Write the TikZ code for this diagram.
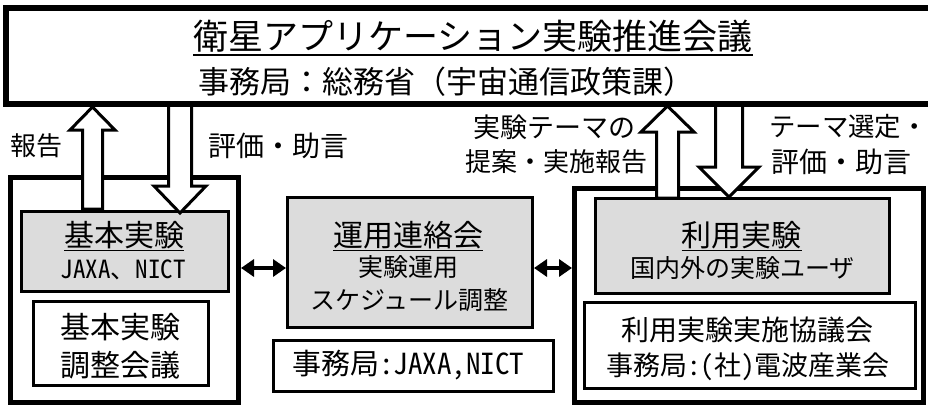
\documentclass[tikz,border=0pt]{standalone}
\usepackage{fontspec}
\setmainfont{Noto Sans CJK JP}
\newfontfamily\hw[CharacterWidth=Half]{Noto Sans CJK JP}
\usepackage{tikz}
\usetikzlibrary{arrows.meta,positioning}
\definecolor{grau}{RGB}{220,220,220}
\newcommand{\schrift}[1]{\fontsize{#1}{#1}\selectfont}
\newcommand{\undl}[1]{\vtop{\hbox{#1}\kern1pt\hrule height 1.6pt}}

\begin{document}
\begin{tikzpicture}[x=1pt,y=1pt,
	box/.style={draw,line width=3pt,inner sep=0pt},
	outer/.style={box,line width=5pt},
	greybox/.style={box,fill=grau},
	blockarr/.style={draw,fill=white,line width=3pt,line join=miter},
	dbl/.style={{Triangle[length=13pt,width=17pt]}-{Triangle[length=13pt,width=17pt]},line width=4pt}]
	\useasboundingbox (0,0) rectangle (928,-407);
	% Kaesten
		\node (left)  at (124.5,-290) [outer,minimum width=228pt,minimum height=225pt] {};
		\node (right) at (749,-295.5) [outer,minimum width=349pt,minimum height=214pt] {};
		\node (basic) at (125,-251.5) [greybox,minimum width=207pt,minimum height=80pt] {};
		\node (basicconf) at (121,-343.5) [box,minimum width=175pt,minimum height=84pt] {};
		\node (ops) at (410,-262.5) [greybox,minimum width=245pt,minimum height=130pt] {};
		\node (opssec) at (413.5,-366) [box,minimum width=280pt,minimum height=51pt] {};
		\node (user) at (742.5,-246) [greybox,minimum width=294pt,minimum height=95pt] {};
		\node (userconf) at (750,-345.5) [box,minimum width=331pt,minimum height=86pt] {};
	% Verbindungen
		\draw[dbl] ([yshift=-5.5pt]ops.west -| left.east) -- ([yshift=-5.5pt]ops.west);
		\draw[dbl] ([yshift=-5.5pt]ops.east) -- ([yshift=-5.5pt]ops.east -| right.west);
	% Blockpfeile
		\draw[blockarr] (82.5,-209) -- (82.5,-130) -- (70,-130) -- (92.5,-107) -- (115,-130) -- (102.5,-130) -- (102.5,-209) -- cycle;
		\draw[blockarr] (168.5,-104) -- (168.5,-186) -- (154,-186) -- (180,-213) -- (206,-186) -- (191.5,-186) -- (191.5,-104);
		\draw[blockarr] (656.5,-198) -- (656.5,-132) -- (641,-132) -- (667.5,-106) -- (694,-132) -- (678.5,-132) -- (678.5,-198) -- cycle;
		\draw[blockarr] (715.5,-104) -- (715.5,-167) -- (699,-167) -- (729,-197) -- (759,-167) -- (742.5,-167) -- (742.5,-104);
		\node (council) at (468.5,-55.5) [box,line width=6pt,minimum width=925pt,minimum height=96pt] {};
	% Texte
		\node (councilT) at (473,-38) {\schrift{35}\undl{衛星アプリケーション実験推進会議}};
		\node (councilS) at (446.5,-82) {\schrift{31}事務局：総務省（宇宙通信政策課）};
		\node (reportL) at (36.5,-146) {\schrift{26}報告};
		\node (adviceL) at (278.5,-146) {\schrift{28}評価・助言};
		\node (themeL) at (554,-127) {\schrift{27}実験テーマの};
		\node (proposeL) at (556,-162) {\schrift{26}提案・実施報告};
		\node (selectL) at (769,-127) [anchor=west,inner sep=0pt] {\schrift{26.4}テーマ選定・};
		\node (advice2L) at (771,-162) [anchor=west,inner sep=0pt] {\schrift{28}評価・助言};
		\node (basicT) at (124,-236) {\schrift{30}\undl{基本実験}};
		\node (basicS) at (123,-270) {\schrift{25}{\hw JAXA}、{\hw NICT}};
		\node (basicconfT) at (120,-346) [align=center,font={\fontsize{30}{38}\selectfont}] {基本実験\\調整会議};
		\node (opsT) at (408,-236) {\schrift{30}\undl{運用連絡会}};
		\node (opsS1) at (408,-267) {\schrift{25}実験運用};
		\node (opsS2) at (409.5,-300) {\schrift{25}スケジュール調整};
		\node (opssecT) at (408,-365) {\schrift{29}事務局{\hw :JAXA,NICT}};
		\node (userT) at (741.5,-236) {\schrift{30}\undl{利用実験}};
		\node (userS) at (742.5,-268) {\schrift{25}国内外の実験ユーザ};
		\node (userconfT) at (747,-330) {\schrift{28}利用実験実施協議会};
		\node (userconfS) at (748,-367) {\schrift{27}事務局{\hw :(}社{\hw )}電波産業会};
\end{tikzpicture}
\end{document}
